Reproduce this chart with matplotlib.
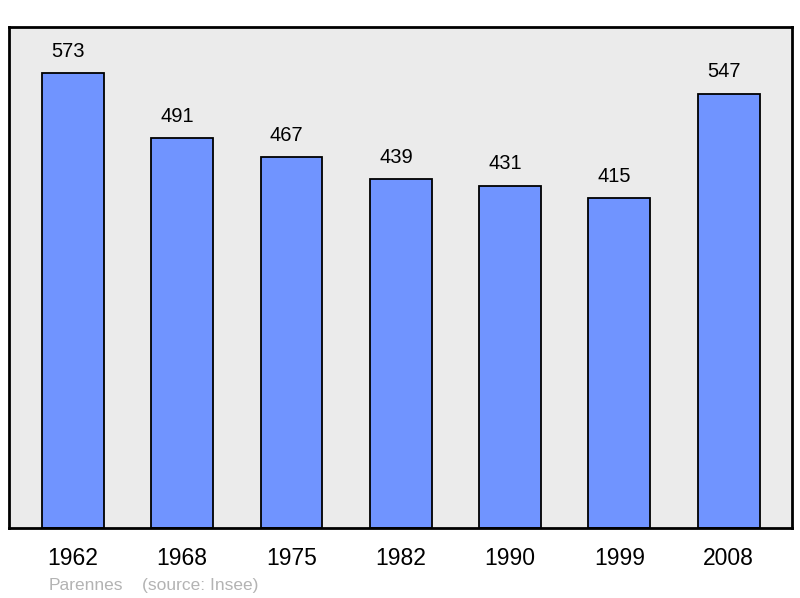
import matplotlib.pyplot as plt

years = ['1962', '1968', '1975', '1982', '1990', '1999', '2008']
population = [573, 491, 467, 439, 431, 415, 547]

plt.rcParams['font.family'] = ['Liberation Sans', 'DejaVu Sans']

fig = plt.figure(figsize=(8, 5.98), dpi=100)
ax = fig.add_axes([9 / 800, 70 / 598, 783 / 800, 501 / 598])
ax.set_facecolor('#ebebeb')

x = list(range(len(years)))
ax.bar(x, population, width=0.567, color='#7094ff', edgecolor='black', linewidth=1.3)

for xi, v in zip(x, population):
    ax.annotate(str(v), (xi, v), xytext=(-3.5, 9), textcoords='offset points',
                ha='center', va='bottom', fontsize=14.5)

ax.set_xlim(-0.585, 6.58)
ax.set_ylim(0, 631)
ax.set_xticks(x)
ax.set_xticklabels(years, fontsize=16.5)
ax.tick_params(axis='x', length=0, pad=14)
ax.set_yticks([])
for s in ax.spines.values():
    s.set_linewidth(2)

fig.text(49 / 800, 8 / 598, 'Parennes', color='#b3b3b3', fontsize=12.5)
fig.text(142 / 800, 8 / 598, '(source: Insee)', color='#b3b3b3', fontsize=12.5)

fig.savefig('out.png', dpi=100)
